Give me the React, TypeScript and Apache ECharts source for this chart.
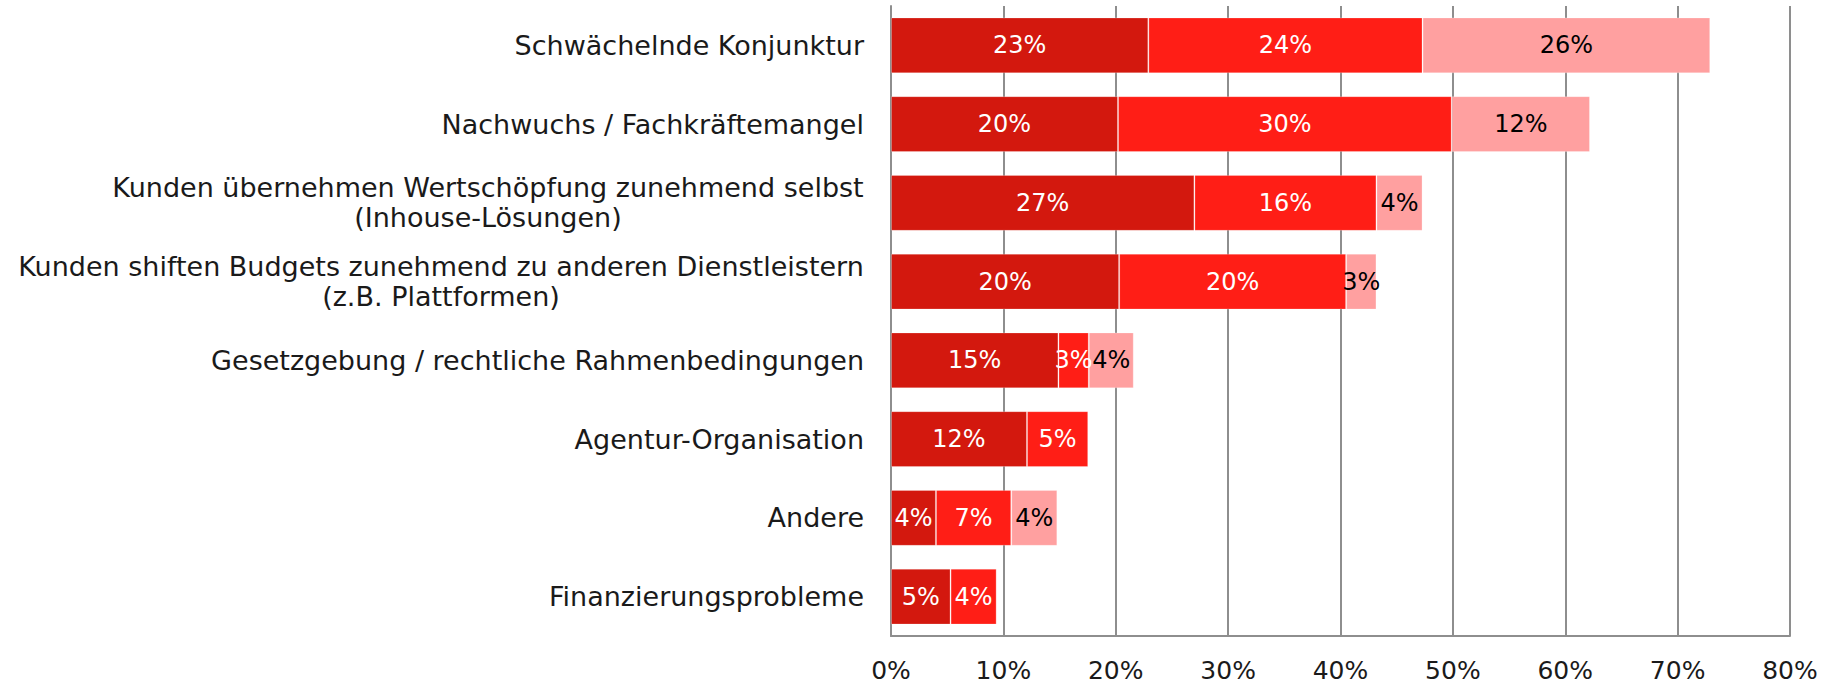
import React, { useEffect, useRef } from "react";
import * as echarts from "echarts";

const categories = [
  "Schwächelnde Konjunktur",
  "Nachwuchs / Fachkräftemangel",
  "Kunden übernehmen Wertschöpfung zunehmend selbst\n(Inhouse-Lösungen)",
  "Kunden shiften Budgets zunehmend zu anderen Dienstleistern\n(z.B. Plattformen)",
  "Gesetzgebung / rechtliche Rahmenbedingungen",
  "Agentur-Organisation",
  "Andere",
  "Finanzierungsprobleme",
];

const seriesDark = [22.9, 20.2, 27.0, 20.3, 14.9, 12.1, 4.0, 5.3];
const seriesBright = [24.4, 29.7, 16.2, 20.2, 2.7, 5.45, 6.7, 4.1];
const seriesLight: (number | null)[] = [25.6, 12.3, 4.1, 2.7, 4.0, null, 4.1, null];

const xTicks = { min: 0, max: 80, interval: 10 };

const FONT = "DejaVu Sans";
const CAT_FS = 27;
const NUM_FS = 24;
const AXIS_FS = 25;

function measure(text: string, size: number): number {
  const c = document.createElement("canvas").getContext("2d");
  if (!c) return text.length * size * 0.55;
  c.font = `${size}px "${FONT}"`;
  return c.measureText(text).width;
}

export default function App() {
  const ref = useRef<HTMLDivElement>(null);
  useEffect(() => {
    document.body.style.margin = "0";
    if (!ref.current) return;
    const chart = echarts.init(ref.current, undefined, { renderer: "svg" });
    const mkSeries = (name: string, data: (number | null)[], color: string, labelColor: string) => ({
      name,
      type: "bar",
      stack: "total",
      data,
      barCategoryGap: "29%",
      itemStyle: { color, borderColor: "rgba(255,255,255,0.25)", borderWidth: 1 },
      label: {
        show: true,
        position: "inside",
        color: labelColor,
        fontFamily: FONT,
        fontSize: NUM_FS,
        formatter: (p: any) => (p.value == null ? "" : Math.round(p.value) + "%"),
      },
      silent: true,
    });

    // widths for centring the second line of two-line labels under the first
    const rich: Record<string, any> = {};
    const catFormat: Record<string, string> = {};
    categories.forEach((c, i) => {
      const parts = c.split("\n");
      if (parts.length > 1) {
        const w = Math.ceil(Math.max(...parts.map((p) => measure(p, CAT_FS))));
        const key = "c" + i;
        rich[key] = {
          width: w,
          align: "center",
          fontFamily: FONT,
          fontSize: CAT_FS,
          lineHeight: 30,
          color: "#1a1a1a",
        };
        catFormat[c] = parts.map((p) => `{${key}|${p}}`).join("\n");
      }
    });

    chart.setOption({
      animation: false,
      grid: { left: 891, right: 33, top: 6, bottom: 49, containLabel: false },
      xAxis: {
        type: "value",
        min: xTicks.min,
        max: xTicks.max,
        interval: xTicks.interval,
        axisLine: { show: true, lineStyle: { color: "#8e8e8e", width: 2 } },
        axisTick: { show: false },
        splitLine: { show: true, lineStyle: { color: "#8e8e8e", width: 2 } },
        axisLabel: {
          formatter: "{value}%",
          color: "#1a1a1a",
          fontFamily: FONT,
          fontSize: AXIS_FS,
          margin: 22,
        },
      },
      yAxis: {
        type: "category",
        data: categories,
        inverse: true,
        axisLine: { show: true, lineStyle: { color: "#8e8e8e", width: 2 } },
        axisTick: { show: false },
        splitLine: { show: false },
        axisLabel: {
          color: "#1a1a1a",
          fontFamily: FONT,
          fontSize: CAT_FS,
          lineHeight: 30,
          margin: 27,
          align: "right",
          rich,
          formatter: (v: string) => catFormat[v] || v,
        },
      },
      series: [
        mkSeries("a", seriesDark, "#D3180E", "#ffffff"),
        mkSeries("b", seriesBright, "#FF1E16", "#ffffff"),
        mkSeries("c", seriesLight, "#FFA0A0", "#000000"),
      ],
    });
    return () => chart.dispose();
  }, []);
  return <div ref={ref} style={{ width: 1823, height: 685 }} />;
}
